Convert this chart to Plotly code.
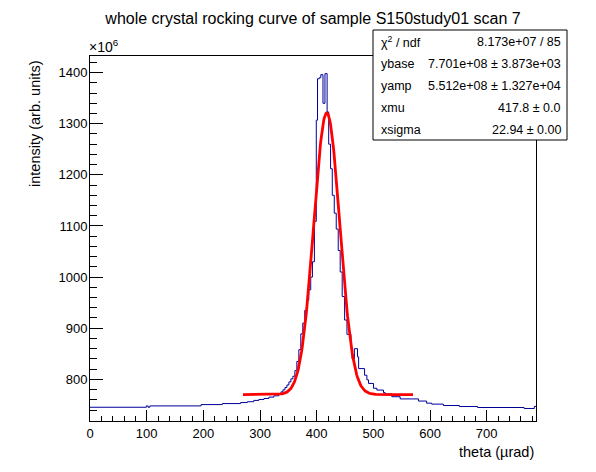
import numpy as np
import plotly.graph_objects as go

# histogram bin edges (urad) and contents (x 1e6, arb. units)
bin_edges = [0, 99.5, 102.5, 105.5, 196, 233.5, 265.8, 277.6, 289, 298,
             307, 315.7, 324.5, 333.3, 337, 340.5, 344, 347.5, 351, 354.5,
             358, 361.5, 365, 368.5, 372, 375.5, 379, 382.5, 386, 389.5,
             392.5, 396, 399.3, 401.5, 404.5, 407.3, 411.1, 414.6, 418.4, 421.2,
             424.5, 427.5, 431, 434.5, 438, 441.5, 445, 449.3, 453.4, 460.4,
             462.5, 466.5, 472, 474, 484.5, 488.6, 491.5, 500.3, 506.2, 517.9,
             520.9, 532.6, 547.3, 579.6, 594, 603, 623.6, 651.8, 684, 766,
             784, 787]
counts = [745.4, 748, 745.4, 748, 750.6, 752.6, 754.6, 756.2, 758.8, 760.6,
          762.6, 765.2, 767.8, 771, 775.5, 779.5, 784, 789, 795, 801,
          806, 817, 835, 858, 889, 910, 935, 955, 975, 1000,
          1030, 1109, 1307, 1388, 1390, 1396, 1340, 1398, 1323, 1260,
          1212, 1160, 1125, 1094, 1052, 1010, 962, 916, 888, 863,
          840, 860, 844, 821, 808, 799, 792, 782.5, 779, 774,
          771.5, 766, 761.7, 757.5, 753.4, 751.5, 748.8, 746.8, 744.9, 743,
          747]

# fit result (gaus + constant), y in units of 1e6
ybase = 770.1
yamp = 551.2
xmu = 417.8
xsigma = 22.94
fit_range = (270, 570)

stat_names = ["\u03c7<sup>2</sup> / ndf", "ybase", "yamp", "xmu", "xsigma"]
stat_values = ["8.173e+07 / 85", "7.701e+08 \u00b1 3.873e+03",
               "5.512e+08 \u00b1 1.327e+04", "417.8 \u00b1 0.0", "22.94 \u00b1 0.00"]

font = "Liberation Sans, Arial, Helvetica, sans-serif"

fig = go.Figure()

# histogram outline as steps
fig.add_trace(go.Scatter(
    x=bin_edges, y=counts + [counts[-1]],
    mode="lines", line=dict(color="#000099", width=1, shape="hv"),
    hoverinfo="skip", showlegend=False))

# fitted function
xf = np.linspace(fit_range[0], fit_range[1], 300)
yf = ybase + yamp * np.exp(-0.5 * ((xf - xmu) / xsigma) ** 2)
fig.add_trace(go.Scatter(
    x=xf, y=yf, mode="lines", line=dict(color="#ff0000", width=2.8),
    hoverinfo="skip", showlegend=False))

axis_common = dict(showgrid=False, zeroline=False, showline=True, linecolor="black",
                   linewidth=1, mirror=True, ticks="inside", tickcolor="black",
                   tickwidth=1, tickfont=dict(family=font, size=13, color="black"))

fig.update_xaxes(range=[0, 787], tick0=0, dtick=100, ticklen=11,
                 minor=dict(ticks="inside", dtick=20, ticklen=5, tickcolor="black"),
                 **axis_common)
fig.update_yaxes(range=[718.5, 1432.5], tick0=0, dtick=100, ticklen=13,
                 ticklabelstandoff=-1,
                 minor=dict(ticks="inside", dtick=20, ticklen=7, tickcolor="black"),
                 **axis_common)

# the page body adds an 8 px offset, so the figure is 8 px smaller and margins shifted
fig.update_layout(
    width=588, height=464,
    margin=dict(l=82, r=60, t=48, b=51),
    paper_bgcolor="white", plot_bgcolor="white",
    font=dict(family=font, color="black"),
    title=dict(text="whole crystal rocking curve of sample S150study01 scan 7",
               x=0.5, xref="paper", y=1 - 10 / 464, yanchor="middle",
               font=dict(family=font, size=16, color="black")),
)

# axis titles and exponent
fig.add_annotation(text="intensity (arb. units)", textangle=-90, xref="paper", yref="paper",
                   x=(35 - 90) / 446, y=(421 - 124) / 365, xanchor="center", yanchor="middle",
                   showarrow=False, font=dict(family=font, size=14.5, color="black"))
fig.add_annotation(text="theta (\u00b5rad)", xref="paper", yref="paper",
                   x=1, y=(421 - 452) / 365, xanchor="right", yanchor="middle",
                   showarrow=False, font=dict(family=font, size=14.5, color="black"))
fig.add_annotation(text="\u00d710<sup>6</sup>", xref="paper", yref="paper",
                   x=(87 - 90) / 446, y=(421 - 46) / 365, xanchor="left", yanchor="middle",
                   showarrow=False, font=dict(family=font, size=14, color="black"))

# stats box
fig.add_shape(type="rect", xref="paper", yref="paper",
              x0=(373 - 90) / 446, x1=(567 - 90) / 446,
              y0=(421 - 140) / 365, y1=(421 - 30) / 365,
              line=dict(color="black", width=1), fillcolor="white", layer="above")
row_y = [42, 64, 86, 108, 130]
for name, val, py in zip(stat_names, stat_values, row_y):
    fig.add_annotation(text=name, xref="paper", yref="paper",
                       x=(379 - 90) / 446, y=(421 - py) / 365, xanchor="left", yanchor="middle",
                       showarrow=False, font=dict(family=font, size=12.5, color="black"))
    fig.add_annotation(text=val, xref="paper", yref="paper",
                       x=(563 - 90) / 446, y=(421 - py) / 365, xanchor="right", yanchor="middle",
                       showarrow=False, font=dict(family=font, size=12.5, color="black"))

fig.write_html("out.html")
